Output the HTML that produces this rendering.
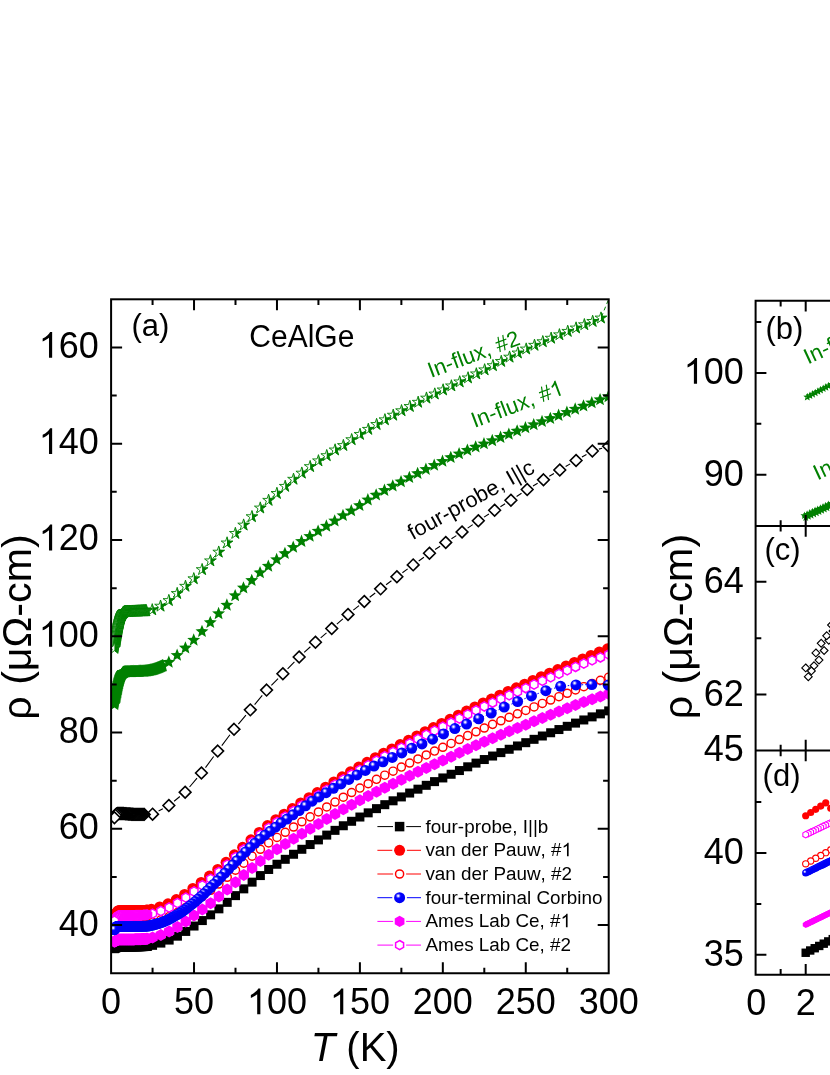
<!DOCTYPE html>
<html><head><meta charset="utf-8"><title>CeAlGe resistivity</title>
<style>html,body{margin:0;padding:0;background:#fff}body{width:830px;height:1075px;overflow:hidden;font-family:"Liberation Sans",sans-serif}svg{display:block;will-change:transform}</style>
</head><body>
<svg width="830" height="1075" viewBox="0 0 830 1075">
<defs>
<radialGradient id="bg" cx="0.375" cy="0.335" r="0.5" fx="0.375" fy="0.335">
<stop offset="0" stop-color="#ffffff"/><stop offset="0.12" stop-color="#e4e4ff"/><stop offset="0.28" stop-color="#6a6aff"/><stop offset="0.46" stop-color="#0808ff"/><stop offset="0.6" stop-color="#0000ff"/><stop offset="1" stop-color="#0000f4"/>
</radialGradient>
<rect id="sq" x="-4.5" y="-4.5" width="9" height="9" fill="#000"/><rect id="sql" x="-4.75" y="-4.75" width="9.5" height="9.5" fill="#000"/>
<circle id="cf" r="5.5" fill="#ff0000"/>
<circle id="co" r="4.05" fill="#fff" stroke="#ff0000" stroke-width="1.45"/>
<circle id="bl" r="5.5" fill="url(#bg)"/>
<path id="hf" d="M0,-6L5.2,-3L5.2,3L0,6L-5.2,3L-5.2,-3Z" fill="#ff00ff"/><path id="hfl" d="M0,-5.6L4.85,-2.8L4.85,2.8L0,5.6L-4.85,2.8L-4.85,-2.8Z" fill="#ff00ff"/>
<path id="ho" d="M0,-4.6L3.98,-2.3L3.98,2.3L0,4.6L-3.98,2.3L-3.98,-2.3Z" fill="#fff" stroke="#ff00ff" stroke-width="1.5"/>
<path id="sf" d="M0,-6.8L1.76,-2.42L6.47,-2.1L2.85,0.92L4,5.5L0,2.99L-4,5.5L-2.85,0.92L-6.47,-2.1L-1.76,-2.42Z" fill="#008000"/>
<g id="sh"><path d="M0,-6.15L1.38,-1.9L5.85,-1.9L2.23,0.73L3.61,4.98L0,2.35L-3.61,4.98L-2.23,0.73L-5.85,-1.9L-1.38,-1.9Z" fill="#fff" stroke="#008000" stroke-width="0.9" stroke-linejoin="miter"/><path d="M0,-6.6L1.48,-2.04L6.28,-2.04L2.4,0.78L3.88,5.34L0,2.52Z" fill="#008000"/></g>
<path id="di" d="M0,-5.85L5.85,0L0,5.85L-5.85,0Z" fill="#fff" stroke="#000" stroke-width="1.6"/>
<rect id="sqs" x="-4.2" y="-4.2" width="8.4" height="8.4" fill="#000"/>
<circle id="cfs" r="3.6" fill="#ff0000"/>
<circle id="cos" r="3.1" fill="#fff" stroke="#ff0000" stroke-width="1.1"/>
<circle id="bls" r="3.6" fill="url(#bg)"/>
<path id="hfs" d="M0,-3.4L2.94,-1.7L2.94,1.7L0,3.4L-2.94,1.7L-2.94,-1.7Z" fill="#ff00ff"/>
<path id="hos" d="M0,-3.3L2.86,-1.65L2.86,1.65L0,3.3L-2.86,1.65L-2.86,-1.65Z" fill="#fff" stroke="#ff00ff" stroke-width="1.1"/>
<path id="sfs" d="M0,-4.2L1.09,-1.5L3.99,-1.3L1.76,0.57L2.47,3.4L0,1.85L-2.47,3.4L-1.76,0.57L-3.99,-1.3L-1.09,-1.5Z" fill="#008000"/>
<g id="shs"><path d="M0,-4.2L1.09,-1.5L3.99,-1.3L1.76,0.57L2.47,3.4L0,1.85L-2.47,3.4L-1.76,0.57L-3.99,-1.3L-1.09,-1.5Z" fill="#008000"/><circle cx="-1.1" cy="0.1" r="0.5" fill="#fff" fill-opacity="0.6"/></g>
<path id="dis" d="M0,-3.9L3.9,0L0,3.9L-3.9,0Z" fill="#fff" stroke="#000" stroke-width="1.15"/>
<clipPath id="ca"><rect x="111.1" y="299.3" width="497.6" height="673.95"/></clipPath>
<clipPath id="cb"><rect x="755.6" y="300.8" width="100" height="225.1"/></clipPath>
<clipPath id="cc"><rect x="755.6" y="525.9" width="100" height="224.55"/></clipPath>
<clipPath id="cd"><rect x="755.6" y="750.45" width="100" height="224.25"/></clipPath>
</defs>
<rect width="830" height="1075" fill="#fff"/>
<g clip-path="url(#ca)">
<polyline points="114.42,648.31 114.58,647.21 114.75,646.12 114.91,645.05 115.08,643.99 115.25,642.95 115.41,641.92 115.58,640.91 115.74,639.91 115.91,638.93 116.08,637.97 116.24,637.02 116.41,636.09 116.57,635.18 116.74,634.28 116.91,633.4 117.07,632.53 117.24,631.68 117.4,630.85 117.57,630.03 117.73,629.23 117.9,628.45 118.07,627.68 118.23,626.93 118.4,626.2 118.56,625.49 118.73,624.79 118.9,624.11 119.06,623.45 119.23,622.8 119.39,622.17 119.56,621.56 119.73,620.97 119.89,620.4 120.06,619.84 120.22,619.3 120.39,618.78 120.55,618.28 120.72,617.8 120.89,617.33 121.05,616.89 121.22,616.46 121.38,616.05 121.55,615.66 121.72,615.29 121.88,614.93 122.05,614.6 122.21,614.29 122.38,613.99 122.54,613.71 122.71,613.46 122.88,613.22 123.04,613 123.21,612.8 123.37,612.62 123.54,612.46 123.71,612.32 123.87,612.21 124.04,612.1 124.2,612 124.37,611.9 124.78,611.69 125.2,611.54 125.61,611.48 126.03,611.44 126.44,611.41 126.86,611.39 127.27,611.36 127.69,611.35 128.1,611.33 128.52,611.32 128.93,611.3 129.35,611.29 129.76,611.28 130.17,611.27 130.59,611.26 131,611.24 131.42,611.23 131.83,611.21 132.25,611.2 132.66,611.19 133.08,611.17 133.49,611.16 133.91,611.15 134.32,611.14 134.74,611.13 135.15,611.12 135.57,611.11 135.98,611.1 136.39,611.09 136.81,611.08 137.22,611.07 137.64,611.06 138.05,611.05 138.47,611.04 138.88,611.03 139.3,611.02 139.71,611.01 140.13,611 140.54,610.99 140.96,610.97 141.37,610.96 141.79,610.95 142.2,610.93 142.61,610.92 143.03,610.9 143.44,610.88 143.86,610.87 144.27,610.85 144.69,610.83 145.1,610.81 145.52,610.78 145.93,610.76 146.35,610.73 152.23,609.8 160.54,606.15 168.85,600.53 177.16,593.48 185.47,586.26 193.78,578.75 202.09,569.61 210.4,560.86 218.71,552.12 227.02,542.96 235.33,533.42 243.64,525.06 251.95,516.68 260.26,508.01 268.57,500.32 276.88,493.43 285.19,486.33 293.5,479.25 301.81,473.11 310.12,466.59 318.43,460.83 326.74,455.63 335.05,449.96 343.36,445.51 351.67,439.67 359.98,434.38 368.29,429.33 376.6,424.47 384.91,419.77 393.22,415.18 401.53,410.72 409.84,406.45 418.15,402.26 426.46,398.1 434.77,394 443.08,389.93 451.39,385.89 459.7,381.88 468.01,377.89 476.32,373.88 484.63,369.83 492.94,365.66 501.25,361.39 509.56,357.13 517.87,352.97 526.18,349.02 534.49,345.29 542.8,341.7 551.11,338.21 559.42,334.77 567.73,331.35 576.04,327.99 584.35,324.7 592.66,321.4 600.97,318.01 608.2,300.3" fill="none" stroke="#008000" stroke-width="1" stroke-dasharray="4,3"/>
<use href="#sh" x="600.97" y="318.01"/><use href="#sh" x="592.66" y="321.4"/><use href="#sh" x="584.35" y="324.7"/><use href="#sh" x="576.04" y="327.99"/><use href="#sh" x="567.73" y="331.35"/><use href="#sh" x="559.42" y="334.77"/><use href="#sh" x="551.11" y="338.21"/><use href="#sh" x="542.8" y="341.7"/><use href="#sh" x="534.49" y="345.29"/><use href="#sh" x="526.18" y="349.02"/><use href="#sh" x="517.87" y="352.97"/><use href="#sh" x="509.56" y="357.13"/><use href="#sh" x="501.25" y="361.39"/><use href="#sh" x="492.94" y="365.66"/><use href="#sh" x="484.63" y="369.83"/><use href="#sh" x="476.32" y="373.88"/><use href="#sh" x="468.01" y="377.89"/><use href="#sh" x="459.7" y="381.88"/><use href="#sh" x="451.39" y="385.89"/><use href="#sh" x="443.08" y="389.93"/><use href="#sh" x="434.77" y="394"/><use href="#sh" x="426.46" y="398.1"/><use href="#sh" x="418.15" y="402.26"/><use href="#sh" x="409.84" y="406.45"/><use href="#sh" x="401.53" y="410.72"/><use href="#sh" x="393.22" y="415.18"/><use href="#sh" x="384.91" y="419.77"/><use href="#sh" x="376.6" y="424.47"/><use href="#sh" x="368.29" y="429.33"/><use href="#sh" x="359.98" y="434.38"/><use href="#sh" x="351.67" y="439.67"/><use href="#sh" x="343.36" y="445.51"/><use href="#sh" x="335.05" y="449.96"/><use href="#sh" x="326.74" y="455.63"/><use href="#sh" x="318.43" y="460.83"/><use href="#sh" x="310.12" y="466.59"/><use href="#sh" x="301.81" y="473.11"/><use href="#sh" x="293.5" y="479.25"/><use href="#sh" x="285.19" y="486.33"/><use href="#sh" x="276.88" y="493.43"/><use href="#sh" x="268.57" y="500.32"/><use href="#sh" x="260.26" y="508.01"/><use href="#sh" x="251.95" y="516.68"/><use href="#sh" x="243.64" y="525.06"/><use href="#sh" x="235.33" y="533.42"/><use href="#sh" x="227.02" y="542.96"/><use href="#sh" x="218.71" y="552.12"/><use href="#sh" x="210.4" y="560.86"/><use href="#sh" x="202.09" y="569.61"/><use href="#sh" x="193.78" y="578.75"/><use href="#sh" x="185.47" y="586.26"/><use href="#sh" x="177.16" y="593.48"/><use href="#sh" x="168.85" y="600.53"/><use href="#sh" x="160.54" y="606.15"/><use href="#sh" x="152.23" y="609.8"/><use href="#sh" x="146.35" y="610.73"/><use href="#sh" x="145.93" y="610.76"/><use href="#sh" x="145.52" y="610.78"/><use href="#sh" x="145.1" y="610.81"/><use href="#sh" x="144.69" y="610.83"/><use href="#sh" x="144.27" y="610.85"/><use href="#sh" x="143.86" y="610.87"/><use href="#sh" x="143.44" y="610.88"/><use href="#sh" x="143.03" y="610.9"/><use href="#sh" x="142.61" y="610.92"/><use href="#sh" x="142.2" y="610.93"/><use href="#sh" x="141.79" y="610.95"/><use href="#sh" x="141.37" y="610.96"/><use href="#sh" x="140.96" y="610.97"/><use href="#sh" x="140.54" y="610.99"/><use href="#sh" x="140.13" y="611"/><use href="#sh" x="139.71" y="611.01"/><use href="#sh" x="139.3" y="611.02"/><use href="#sh" x="138.88" y="611.03"/><use href="#sh" x="138.47" y="611.04"/><use href="#sh" x="138.05" y="611.05"/><use href="#sh" x="137.64" y="611.06"/><use href="#sh" x="137.22" y="611.07"/><use href="#sh" x="136.81" y="611.08"/><use href="#sh" x="136.39" y="611.09"/><use href="#sh" x="135.98" y="611.1"/><use href="#sh" x="135.57" y="611.11"/><use href="#sh" x="135.15" y="611.12"/><use href="#sh" x="134.74" y="611.13"/><use href="#sh" x="134.32" y="611.14"/><use href="#sh" x="133.91" y="611.15"/><use href="#sh" x="133.49" y="611.16"/><use href="#sh" x="133.08" y="611.17"/><use href="#sh" x="132.66" y="611.19"/><use href="#sh" x="132.25" y="611.2"/><use href="#sh" x="131.83" y="611.21"/><use href="#sh" x="131.42" y="611.23"/><use href="#sh" x="131" y="611.24"/><use href="#sh" x="130.59" y="611.26"/><use href="#sh" x="130.17" y="611.27"/><use href="#sh" x="129.76" y="611.28"/><use href="#sh" x="129.35" y="611.29"/><use href="#sh" x="128.93" y="611.3"/><use href="#sh" x="128.52" y="611.32"/><use href="#sh" x="128.1" y="611.33"/><use href="#sh" x="127.69" y="611.35"/><use href="#sh" x="127.27" y="611.36"/><use href="#sh" x="126.86" y="611.39"/><use href="#sh" x="126.44" y="611.41"/><use href="#sh" x="126.03" y="611.44"/><use href="#sh" x="125.61" y="611.48"/><use href="#sh" x="125.2" y="611.54"/><use href="#sh" x="124.78" y="611.69"/><use href="#sh" x="124.37" y="611.9"/><use href="#sh" x="124.2" y="612"/><use href="#sh" x="124.04" y="612.1"/><use href="#sh" x="123.87" y="612.21"/><use href="#sh" x="123.71" y="612.32"/><use href="#sh" x="123.54" y="612.46"/><use href="#sh" x="123.37" y="612.62"/><use href="#sh" x="123.21" y="612.8"/><use href="#sh" x="123.04" y="613"/><use href="#sh" x="122.88" y="613.22"/><use href="#sh" x="122.71" y="613.46"/><use href="#sh" x="122.54" y="613.71"/><use href="#sh" x="122.38" y="613.99"/><use href="#sh" x="122.21" y="614.29"/><use href="#sh" x="122.05" y="614.6"/><use href="#sh" x="121.88" y="614.93"/><use href="#sh" x="121.72" y="615.29"/><use href="#sh" x="121.55" y="615.66"/><use href="#sh" x="121.38" y="616.05"/><use href="#sh" x="121.22" y="616.46"/><use href="#sh" x="121.05" y="616.89"/><use href="#sh" x="120.89" y="617.33"/><use href="#sh" x="120.72" y="617.8"/><use href="#sh" x="120.55" y="618.28"/><use href="#sh" x="120.39" y="618.78"/><use href="#sh" x="120.22" y="619.3"/><use href="#sh" x="120.06" y="619.84"/><use href="#sh" x="119.89" y="620.4"/><use href="#sh" x="119.73" y="620.97"/><use href="#sh" x="119.56" y="621.56"/><use href="#sh" x="119.39" y="622.17"/><use href="#sh" x="119.23" y="622.8"/><use href="#sh" x="119.06" y="623.45"/><use href="#sh" x="118.9" y="624.11"/><use href="#sh" x="118.73" y="624.79"/><use href="#sh" x="118.56" y="625.49"/><use href="#sh" x="118.4" y="626.2"/><use href="#sh" x="118.23" y="626.93"/><use href="#sh" x="118.07" y="627.68"/><use href="#sh" x="117.9" y="628.45"/><use href="#sh" x="117.73" y="629.23"/><use href="#sh" x="117.57" y="630.03"/><use href="#sh" x="117.4" y="630.85"/><use href="#sh" x="117.24" y="631.68"/><use href="#sh" x="117.07" y="632.53"/><use href="#sh" x="116.91" y="633.4"/><use href="#sh" x="116.74" y="634.28"/><use href="#sh" x="116.57" y="635.18"/><use href="#sh" x="116.41" y="636.09"/><use href="#sh" x="116.24" y="637.02"/><use href="#sh" x="116.08" y="637.97"/><use href="#sh" x="115.91" y="638.93"/><use href="#sh" x="115.74" y="639.91"/><use href="#sh" x="115.58" y="640.91"/><use href="#sh" x="115.41" y="641.92"/><use href="#sh" x="115.25" y="642.95"/><use href="#sh" x="115.08" y="643.99"/><use href="#sh" x="114.91" y="645.05"/><use href="#sh" x="114.75" y="646.12"/><use href="#sh" x="114.58" y="647.21"/><use href="#sh" x="114.42" y="648.31"/>
<use href="#sf" x="608.37" y="396.66"/><use href="#sf" x="600.07" y="399.71"/><use href="#sf" x="591.78" y="402.84"/><use href="#sf" x="583.49" y="406"/><use href="#sf" x="575.19" y="409.17"/><use href="#sf" x="566.9" y="412.31"/><use href="#sf" x="558.61" y="415.42"/><use href="#sf" x="550.31" y="418.51"/><use href="#sf" x="542.02" y="421.6"/><use href="#sf" x="533.73" y="424.7"/><use href="#sf" x="525.43" y="427.83"/><use href="#sf" x="517.14" y="431"/><use href="#sf" x="508.85" y="434.2"/><use href="#sf" x="500.55" y="437.42"/><use href="#sf" x="492.26" y="440.64"/><use href="#sf" x="483.97" y="443.85"/><use href="#sf" x="475.67" y="446.98"/><use href="#sf" x="467.38" y="450.25"/><use href="#sf" x="459.09" y="453.8"/><use href="#sf" x="450.79" y="457.51"/><use href="#sf" x="442.5" y="461.37"/><use href="#sf" x="434.21" y="465.33"/><use href="#sf" x="425.91" y="469.38"/><use href="#sf" x="417.62" y="473.48"/><use href="#sf" x="409.33" y="477.6"/><use href="#sf" x="401.03" y="481.75"/><use href="#sf" x="392.74" y="485.99"/><use href="#sf" x="384.45" y="490.39"/><use href="#sf" x="376.15" y="495.01"/><use href="#sf" x="367.86" y="499.91"/><use href="#sf" x="359.57" y="505.49"/><use href="#sf" x="351.27" y="510.83"/><use href="#sf" x="342.98" y="515.55"/><use href="#sf" x="334.69" y="520.95"/><use href="#sf" x="326.39" y="526.14"/><use href="#sf" x="318.1" y="531.19"/><use href="#sf" x="309.81" y="536.35"/><use href="#sf" x="301.51" y="541.42"/><use href="#sf" x="293.22" y="547.34"/><use href="#sf" x="284.93" y="553.48"/><use href="#sf" x="276.63" y="559.61"/><use href="#sf" x="268.34" y="566.21"/><use href="#sf" x="260.05" y="572.73"/><use href="#sf" x="251.75" y="580.46"/><use href="#sf" x="243.46" y="587.96"/><use href="#sf" x="235.17" y="595.7"/><use href="#sf" x="226.87" y="605.16"/><use href="#sf" x="218.58" y="613.65"/><use href="#sf" x="210.29" y="622.49"/><use href="#sf" x="201.99" y="631.48"/><use href="#sf" x="193.7" y="640.13"/><use href="#sf" x="185.41" y="647.97"/><use href="#sf" x="177.11" y="655.34"/><use href="#sf" x="168.82" y="662.27"/><use href="#sf" x="162.93" y="665.67"/><use href="#sf" x="162.52" y="665.88"/><use href="#sf" x="162.1" y="666.08"/><use href="#sf" x="161.69" y="666.28"/><use href="#sf" x="161.27" y="666.47"/><use href="#sf" x="160.86" y="666.66"/><use href="#sf" x="160.45" y="666.85"/><use href="#sf" x="160.03" y="667.03"/><use href="#sf" x="159.62" y="667.21"/><use href="#sf" x="159.2" y="667.39"/><use href="#sf" x="158.79" y="667.56"/><use href="#sf" x="158.37" y="667.72"/><use href="#sf" x="157.96" y="667.89"/><use href="#sf" x="157.54" y="668.05"/><use href="#sf" x="157.13" y="668.21"/><use href="#sf" x="156.71" y="668.36"/><use href="#sf" x="156.3" y="668.52"/><use href="#sf" x="155.88" y="668.68"/><use href="#sf" x="155.47" y="668.83"/><use href="#sf" x="155.05" y="668.98"/><use href="#sf" x="154.64" y="669.12"/><use href="#sf" x="154.23" y="669.26"/><use href="#sf" x="153.81" y="669.39"/><use href="#sf" x="153.4" y="669.51"/><use href="#sf" x="152.98" y="669.63"/><use href="#sf" x="152.57" y="669.73"/><use href="#sf" x="152.15" y="669.83"/><use href="#sf" x="151.74" y="669.93"/><use href="#sf" x="151.32" y="670.02"/><use href="#sf" x="150.91" y="670.12"/><use href="#sf" x="150.49" y="670.21"/><use href="#sf" x="150.08" y="670.3"/><use href="#sf" x="149.66" y="670.39"/><use href="#sf" x="149.25" y="670.47"/><use href="#sf" x="148.83" y="670.55"/><use href="#sf" x="148.42" y="670.63"/><use href="#sf" x="148.01" y="670.71"/><use href="#sf" x="147.59" y="670.78"/><use href="#sf" x="147.18" y="670.85"/><use href="#sf" x="146.76" y="670.91"/><use href="#sf" x="146.35" y="670.97"/><use href="#sf" x="145.93" y="671.02"/><use href="#sf" x="145.52" y="671.07"/><use href="#sf" x="145.1" y="671.11"/><use href="#sf" x="144.69" y="671.15"/><use href="#sf" x="144.27" y="671.18"/><use href="#sf" x="143.86" y="671.2"/><use href="#sf" x="143.44" y="671.23"/><use href="#sf" x="143.03" y="671.25"/><use href="#sf" x="142.61" y="671.27"/><use href="#sf" x="142.2" y="671.29"/><use href="#sf" x="141.79" y="671.31"/><use href="#sf" x="141.37" y="671.33"/><use href="#sf" x="140.96" y="671.34"/><use href="#sf" x="140.54" y="671.36"/><use href="#sf" x="140.13" y="671.38"/><use href="#sf" x="139.71" y="671.39"/><use href="#sf" x="139.3" y="671.4"/><use href="#sf" x="138.88" y="671.42"/><use href="#sf" x="138.47" y="671.43"/><use href="#sf" x="138.05" y="671.44"/><use href="#sf" x="137.64" y="671.46"/><use href="#sf" x="137.22" y="671.47"/><use href="#sf" x="136.81" y="671.48"/><use href="#sf" x="136.39" y="671.49"/><use href="#sf" x="135.98" y="671.5"/><use href="#sf" x="135.57" y="671.51"/><use href="#sf" x="135.15" y="671.52"/><use href="#sf" x="134.74" y="671.54"/><use href="#sf" x="134.32" y="671.55"/><use href="#sf" x="133.91" y="671.56"/><use href="#sf" x="133.49" y="671.57"/><use href="#sf" x="133.08" y="671.58"/><use href="#sf" x="132.66" y="671.6"/><use href="#sf" x="132.25" y="671.61"/><use href="#sf" x="131.83" y="671.63"/><use href="#sf" x="131.42" y="671.64"/><use href="#sf" x="131" y="671.66"/><use href="#sf" x="130.59" y="671.67"/><use href="#sf" x="130.17" y="671.69"/><use href="#sf" x="129.76" y="671.7"/><use href="#sf" x="129.35" y="671.71"/><use href="#sf" x="128.93" y="671.72"/><use href="#sf" x="128.52" y="671.73"/><use href="#sf" x="128.1" y="671.75"/><use href="#sf" x="127.69" y="671.76"/><use href="#sf" x="127.27" y="671.78"/><use href="#sf" x="126.86" y="671.8"/><use href="#sf" x="126.44" y="671.82"/><use href="#sf" x="126.03" y="671.85"/><use href="#sf" x="125.61" y="671.88"/><use href="#sf" x="125.2" y="671.92"/><use href="#sf" x="124.78" y="672"/><use href="#sf" x="124.37" y="672.12"/><use href="#sf" x="124.2" y="672.18"/><use href="#sf" x="124.04" y="672.24"/><use href="#sf" x="123.87" y="672.31"/><use href="#sf" x="123.71" y="672.38"/><use href="#sf" x="123.54" y="672.46"/><use href="#sf" x="123.37" y="672.57"/><use href="#sf" x="123.21" y="672.69"/><use href="#sf" x="123.04" y="672.83"/><use href="#sf" x="122.88" y="673"/><use href="#sf" x="122.71" y="673.18"/><use href="#sf" x="122.54" y="673.38"/><use href="#sf" x="122.38" y="673.6"/><use href="#sf" x="122.21" y="673.84"/><use href="#sf" x="122.05" y="674.1"/><use href="#sf" x="121.88" y="674.37"/><use href="#sf" x="121.72" y="674.67"/><use href="#sf" x="121.55" y="674.98"/><use href="#sf" x="121.38" y="675.32"/><use href="#sf" x="121.22" y="675.67"/><use href="#sf" x="121.05" y="676.04"/><use href="#sf" x="120.89" y="676.42"/><use href="#sf" x="120.72" y="676.83"/><use href="#sf" x="120.55" y="677.25"/><use href="#sf" x="120.39" y="677.7"/><use href="#sf" x="120.22" y="678.15"/><use href="#sf" x="120.06" y="678.63"/><use href="#sf" x="119.89" y="679.13"/><use href="#sf" x="119.73" y="679.64"/><use href="#sf" x="119.56" y="680.17"/><use href="#sf" x="119.39" y="680.71"/><use href="#sf" x="119.23" y="681.28"/><use href="#sf" x="119.06" y="681.86"/><use href="#sf" x="118.9" y="682.46"/><use href="#sf" x="118.73" y="683.07"/><use href="#sf" x="118.56" y="683.7"/><use href="#sf" x="118.4" y="684.35"/><use href="#sf" x="118.23" y="685.02"/><use href="#sf" x="118.07" y="685.7"/><use href="#sf" x="117.9" y="686.39"/><use href="#sf" x="117.73" y="687.11"/><use href="#sf" x="117.57" y="687.84"/><use href="#sf" x="117.4" y="688.58"/><use href="#sf" x="117.24" y="689.35"/><use href="#sf" x="117.07" y="690.12"/><use href="#sf" x="116.91" y="690.92"/><use href="#sf" x="116.74" y="691.73"/><use href="#sf" x="116.57" y="692.55"/><use href="#sf" x="116.41" y="693.39"/><use href="#sf" x="116.24" y="694.25"/><use href="#sf" x="116.08" y="695.12"/><use href="#sf" x="115.91" y="696"/><use href="#sf" x="115.74" y="696.9"/><use href="#sf" x="115.58" y="697.82"/><use href="#sf" x="115.41" y="698.75"/><use href="#sf" x="115.25" y="699.69"/><use href="#sf" x="115.08" y="700.65"/><use href="#sf" x="114.91" y="701.63"/><use href="#sf" x="114.75" y="702.61"/><use href="#sf" x="114.58" y="703.62"/><use href="#sf" x="114.42" y="704.63"/>
<path d="M158.58,810.97L162.84,808.71M174.11,801.22L179.88,796.48M189.55,786.99L197.03,778.2M205.48,767.56L213.67,756.54M221.79,745.64L229.93,734.76M238.37,724.1L245.93,715.07M254.62,704.61L262.26,695.35M271.38,685.28L278.07,678.56M287.61,668.87L294.42,661.88M304.19,652.43L310.42,646.77M320.66,637.83L326.52,632.91M336.87,624.09L342.89,618.87M353.34,610.17L359,605.65M369.7,597.26L375.21,593.02M386.05,584.8L391.44,580.77M402.39,572.71L407.67,568.88M418.71,560.93L423.93,557.21M435.13,549.49L440.09,546.19M451.47,538.74L456.33,535.6M467.65,528.08L472.72,524.61M484.04,517.09L488.9,513.96M500.41,506.71L505.11,503.81M516.59,496.51L521.51,493.27M533.04,486.06L537.64,483.32M549.3,476.32L553.95,473.51M565.64,466.56L570.19,463.89M581.95,457.05L586.46,454.44M598.87,449.13L602.11,448.17" stroke="#000" stroke-width="1.1" fill="none"/>
<use href="#di" x="608.63" y="446.26"/><use href="#di" x="592.35" y="451.04"/><use href="#di" x="576.06" y="460.45"/><use href="#di" x="559.77" y="470"/><use href="#di" x="543.48" y="479.84"/><use href="#di" x="527.19" y="489.53"/><use href="#di" x="510.91" y="500.25"/><use href="#di" x="494.62" y="510.27"/><use href="#di" x="478.33" y="520.78"/><use href="#di" x="462.04" y="531.92"/><use href="#di" x="445.75" y="542.42"/><use href="#di" x="429.46" y="553.26"/><use href="#di" x="413.18" y="564.89"/><use href="#di" x="396.89" y="576.7"/><use href="#di" x="380.6" y="588.87"/><use href="#di" x="364.31" y="601.41"/><use href="#di" x="348.02" y="614.42"/><use href="#di" x="331.74" y="628.54"/><use href="#di" x="315.45" y="642.2"/><use href="#di" x="299.16" y="657.01"/><use href="#di" x="282.87" y="673.75"/><use href="#di" x="266.58" y="690.1"/><use href="#di" x="250.3" y="709.86"/><use href="#di" x="234.01" y="729.31"/><use href="#di" x="217.72" y="751.08"/><use href="#di" x="201.43" y="773.02"/><use href="#di" x="185.14" y="792.17"/><use href="#di" x="168.85" y="805.53"/><use href="#di" x="152.57" y="814.15"/><use href="#di" x="144.27" y="814.39"/><use href="#di" x="143.28" y="814.39"/><use href="#di" x="142.28" y="814.39"/><use href="#di" x="141.29" y="814.39"/><use href="#di" x="140.29" y="814.39"/><use href="#di" x="139.3" y="814.39"/><use href="#di" x="138.3" y="814.39"/><use href="#di" x="137.31" y="814.39"/><use href="#di" x="136.31" y="814.39"/><use href="#di" x="135.32" y="814.38"/><use href="#di" x="134.32" y="814.36"/><use href="#di" x="133.33" y="814.31"/><use href="#di" x="132.33" y="814.25"/><use href="#di" x="131.34" y="814.18"/><use href="#di" x="130.34" y="814.1"/><use href="#di" x="129.35" y="814.03"/><use href="#di" x="128.35" y="813.95"/><use href="#di" x="127.35" y="813.89"/><use href="#di" x="126.36" y="813.8"/><use href="#di" x="125.36" y="813.71"/><use href="#di" x="124.37" y="813.61"/><use href="#di" x="123.37" y="813.53"/><use href="#di" x="122.38" y="813.46"/><use href="#di" x="121.38" y="813.43"/><use href="#di" x="120.39" y="813.43"/><use href="#di" x="119.39" y="813.43"/><use href="#di" x="118.4" y="813.43"/><use href="#di" x="117.4" y="813.46"/><use href="#di" x="116.41" y="813.92"/><use href="#di" x="115.41" y="815.24"/><use href="#di" x="114.42" y="817.76"/>
<use href="#sq" x="608.7" y="710.89"/><use href="#sq" x="600.41" y="713.86"/><use href="#sq" x="592.11" y="716.88"/><use href="#sq" x="583.82" y="719.96"/><use href="#sq" x="575.53" y="723.1"/><use href="#sq" x="567.23" y="726.31"/><use href="#sq" x="558.94" y="729.55"/><use href="#sq" x="550.65" y="732.76"/><use href="#sq" x="542.35" y="736"/><use href="#sq" x="534.06" y="739.33"/><use href="#sq" x="525.77" y="742.68"/><use href="#sq" x="517.47" y="745.97"/><use href="#sq" x="509.18" y="749.27"/><use href="#sq" x="500.89" y="752.62"/><use href="#sq" x="492.59" y="756.04"/><use href="#sq" x="484.3" y="759.54"/><use href="#sq" x="476.01" y="763.12"/><use href="#sq" x="467.71" y="766.81"/><use href="#sq" x="459.42" y="770.55"/><use href="#sq" x="451.13" y="774.26"/><use href="#sq" x="442.83" y="777.95"/><use href="#sq" x="434.54" y="781.62"/><use href="#sq" x="426.25" y="785.32"/><use href="#sq" x="417.95" y="789.17"/><use href="#sq" x="409.66" y="793.05"/><use href="#sq" x="401.37" y="796.92"/><use href="#sq" x="393.07" y="800.81"/><use href="#sq" x="384.78" y="804.68"/><use href="#sq" x="376.49" y="808.64"/><use href="#sq" x="368.19" y="812.85"/><use href="#sq" x="359.9" y="817.03"/><use href="#sq" x="351.61" y="821.29"/><use href="#sq" x="343.31" y="825.75"/><use href="#sq" x="335.02" y="830.35"/><use href="#sq" x="326.73" y="835.1"/><use href="#sq" x="318.43" y="839.89"/><use href="#sq" x="310.14" y="844.56"/><use href="#sq" x="301.85" y="849.29"/><use href="#sq" x="293.55" y="854.26"/><use href="#sq" x="285.26" y="859.32"/><use href="#sq" x="276.97" y="864.25"/><use href="#sq" x="268.67" y="869.47"/><use href="#sq" x="260.38" y="875.58"/><use href="#sq" x="252.09" y="882.15"/><use href="#sq" x="243.79" y="888.86"/><use href="#sq" x="235.5" y="895.63"/><use href="#sq" x="227.21" y="902.35"/><use href="#sq" x="218.91" y="908.84"/><use href="#sq" x="210.62" y="914.86"/><use href="#sq" x="202.33" y="920.57"/><use href="#sq" x="194.03" y="926.04"/><use href="#sq" x="185.74" y="931.42"/><use href="#sq" x="177.45" y="936.18"/><use href="#sq" x="169.15" y="940.08"/><use href="#sq" x="160.86" y="943.09"/><use href="#sq" x="152.57" y="945.34"/><use href="#sq" x="147.59" y="946.28"/><use href="#sq" x="146.93" y="946.36"/><use href="#sq" x="146.26" y="946.42"/><use href="#sq" x="145.6" y="946.48"/><use href="#sq" x="144.94" y="946.52"/><use href="#sq" x="144.27" y="946.54"/><use href="#sq" x="143.61" y="946.56"/><use href="#sq" x="142.95" y="946.58"/><use href="#sq" x="142.28" y="946.59"/><use href="#sq" x="141.62" y="946.61"/><use href="#sq" x="140.96" y="946.62"/><use href="#sq" x="140.29" y="946.64"/><use href="#sq" x="139.63" y="946.65"/><use href="#sq" x="138.97" y="946.66"/><use href="#sq" x="138.3" y="946.67"/><use href="#sq" x="137.64" y="946.69"/><use href="#sq" x="136.98" y="946.7"/><use href="#sq" x="136.31" y="946.71"/><use href="#sq" x="135.65" y="946.72"/><use href="#sq" x="134.98" y="946.73"/><use href="#sq" x="134.32" y="946.73"/><use href="#sq" x="133.66" y="946.74"/><use href="#sq" x="132.99" y="946.75"/><use href="#sq" x="132.33" y="946.75"/><use href="#sq" x="131.67" y="946.76"/><use href="#sq" x="131" y="946.76"/><use href="#sq" x="130.34" y="946.77"/><use href="#sq" x="129.68" y="946.77"/><use href="#sq" x="129.01" y="946.77"/><use href="#sq" x="128.35" y="946.77"/><use href="#sq" x="127.69" y="946.77"/><use href="#sq" x="127.02" y="946.77"/><use href="#sq" x="126.36" y="946.77"/><use href="#sq" x="125.7" y="946.77"/><use href="#sq" x="125.03" y="946.77"/><use href="#sq" x="124.37" y="946.77"/><use href="#sq" x="123.71" y="946.77"/><use href="#sq" x="123.04" y="946.77"/><use href="#sq" x="122.38" y="946.77"/><use href="#sq" x="121.72" y="946.77"/><use href="#sq" x="121.05" y="946.77"/><use href="#sq" x="120.39" y="946.77"/><use href="#sq" x="119.73" y="946.77"/><use href="#sq" x="119.06" y="946.77"/><use href="#sq" x="118.4" y="946.8"/><use href="#sq" x="117.73" y="947.01"/><use href="#sq" x="117.07" y="947.28"/><use href="#sq" x="116.41" y="947.6"/><use href="#sq" x="115.74" y="947.94"/><use href="#sq" x="115.08" y="948.31"/><use href="#sq" x="114.42" y="948.7"/>
<use href="#cf" x="607.54" y="648.77"/><use href="#cf" x="599.25" y="652.08"/><use href="#cf" x="590.95" y="655.45"/><use href="#cf" x="582.66" y="658.88"/><use href="#cf" x="574.37" y="662.38"/><use href="#cf" x="566.07" y="665.96"/><use href="#cf" x="557.78" y="669.56"/><use href="#cf" x="549.49" y="673.13"/><use href="#cf" x="541.19" y="676.75"/><use href="#cf" x="532.9" y="680.47"/><use href="#cf" x="524.61" y="684.18"/><use href="#cf" x="516.31" y="687.83"/><use href="#cf" x="508.02" y="691.51"/><use href="#cf" x="499.73" y="695.25"/><use href="#cf" x="491.43" y="699.07"/><use href="#cf" x="483.14" y="702.97"/><use href="#cf" x="474.85" y="706.96"/><use href="#cf" x="466.55" y="711.09"/><use href="#cf" x="458.26" y="715.25"/><use href="#cf" x="449.97" y="719.36"/><use href="#cf" x="441.67" y="723.47"/><use href="#cf" x="433.38" y="727.55"/><use href="#cf" x="425.09" y="731.69"/><use href="#cf" x="416.79" y="735.98"/><use href="#cf" x="408.5" y="740.3"/><use href="#cf" x="400.21" y="744.6"/><use href="#cf" x="391.91" y="748.92"/><use href="#cf" x="383.62" y="753.23"/><use href="#cf" x="375.33" y="757.67"/><use href="#cf" x="367.03" y="762.37"/><use href="#cf" x="358.74" y="767.02"/><use href="#cf" x="350.45" y="771.78"/><use href="#cf" x="342.15" y="776.77"/><use href="#cf" x="333.86" y="781.91"/><use href="#cf" x="325.57" y="787.21"/><use href="#cf" x="317.27" y="792.52"/><use href="#cf" x="308.98" y="797.71"/><use href="#cf" x="300.69" y="803"/><use href="#cf" x="292.39" y="808.55"/><use href="#cf" x="284.1" y="814.18"/><use href="#cf" x="275.81" y="819.65"/><use href="#cf" x="267.51" y="825.58"/><use href="#cf" x="259.22" y="832.49"/><use href="#cf" x="250.93" y="839.81"/><use href="#cf" x="242.63" y="847.31"/><use href="#cf" x="234.34" y="854.83"/><use href="#cf" x="226.05" y="862.3"/><use href="#cf" x="217.75" y="869.44"/><use href="#cf" x="209.46" y="876.08"/><use href="#cf" x="201.17" y="882.4"/><use href="#cf" x="192.87" y="888.45"/><use href="#cf" x="184.58" y="894.4"/><use href="#cf" x="176.29" y="899.52"/><use href="#cf" x="167.99" y="903.78"/><use href="#cf" x="159.7" y="906.93"/><use href="#cf" x="151.41" y="909.36"/><use href="#cf" x="147.59" y="910.12"/><use href="#cf" x="146.93" y="910.21"/><use href="#cf" x="146.26" y="910.28"/><use href="#cf" x="145.6" y="910.34"/><use href="#cf" x="144.94" y="910.38"/><use href="#cf" x="144.27" y="910.41"/><use href="#cf" x="143.61" y="910.43"/><use href="#cf" x="142.95" y="910.45"/><use href="#cf" x="142.28" y="910.47"/><use href="#cf" x="141.62" y="910.48"/><use href="#cf" x="140.96" y="910.5"/><use href="#cf" x="140.29" y="910.52"/><use href="#cf" x="139.63" y="910.53"/><use href="#cf" x="138.97" y="910.55"/><use href="#cf" x="138.3" y="910.56"/><use href="#cf" x="137.64" y="910.57"/><use href="#cf" x="136.98" y="910.58"/><use href="#cf" x="136.31" y="910.6"/><use href="#cf" x="135.65" y="910.61"/><use href="#cf" x="134.98" y="910.62"/><use href="#cf" x="134.32" y="910.62"/><use href="#cf" x="133.66" y="910.63"/><use href="#cf" x="132.99" y="910.64"/><use href="#cf" x="132.33" y="910.65"/><use href="#cf" x="131.67" y="910.65"/><use href="#cf" x="131" y="910.66"/><use href="#cf" x="130.34" y="910.66"/><use href="#cf" x="129.68" y="910.66"/><use href="#cf" x="129.01" y="910.67"/><use href="#cf" x="128.35" y="910.67"/><use href="#cf" x="127.69" y="910.67"/><use href="#cf" x="127.02" y="910.67"/><use href="#cf" x="126.36" y="910.67"/><use href="#cf" x="125.7" y="910.67"/><use href="#cf" x="125.03" y="910.67"/><use href="#cf" x="124.37" y="910.67"/><use href="#cf" x="123.71" y="910.67"/><use href="#cf" x="123.04" y="910.67"/><use href="#cf" x="122.38" y="910.67"/><use href="#cf" x="121.72" y="910.67"/><use href="#cf" x="121.05" y="910.67"/><use href="#cf" x="120.39" y="910.67"/><use href="#cf" x="119.73" y="910.67"/><use href="#cf" x="119.06" y="910.67"/><use href="#cf" x="118.4" y="910.75"/><use href="#cf" x="117.73" y="911.35"/><use href="#cf" x="117.07" y="912.14"/><use href="#cf" x="116.41" y="913.03"/><use href="#cf" x="115.74" y="914.02"/><use href="#cf" x="115.08" y="915.08"/><use href="#cf" x="114.42" y="916.2"/>
<use href="#co" x="608.7" y="677.19"/><use href="#co" x="600.41" y="680.29"/><use href="#co" x="592.11" y="683.45"/><use href="#co" x="583.82" y="686.67"/><use href="#co" x="575.53" y="689.95"/><use href="#co" x="567.23" y="693.3"/><use href="#co" x="558.94" y="696.69"/><use href="#co" x="550.65" y="700.04"/><use href="#co" x="542.35" y="703.43"/><use href="#co" x="534.06" y="706.91"/><use href="#co" x="525.77" y="710.41"/><use href="#co" x="517.47" y="713.85"/><use href="#co" x="509.18" y="717.29"/><use href="#co" x="500.89" y="720.8"/><use href="#co" x="492.59" y="724.37"/><use href="#co" x="484.3" y="728.02"/><use href="#co" x="476.01" y="731.76"/><use href="#co" x="467.71" y="735.63"/><use href="#co" x="459.42" y="739.53"/><use href="#co" x="451.13" y="743.4"/><use href="#co" x="442.83" y="747.27"/><use href="#co" x="434.54" y="751.09"/><use href="#co" x="426.25" y="754.97"/><use href="#co" x="417.95" y="758.98"/><use href="#co" x="409.66" y="763.04"/><use href="#co" x="401.37" y="767.09"/><use href="#co" x="393.07" y="771.15"/><use href="#co" x="384.78" y="775.19"/><use href="#co" x="376.49" y="779.33"/><use href="#co" x="368.19" y="783.73"/><use href="#co" x="359.9" y="788.1"/><use href="#co" x="351.61" y="792.55"/><use href="#co" x="343.31" y="797.21"/><use href="#co" x="335.02" y="802.02"/><use href="#co" x="326.73" y="806.98"/><use href="#co" x="318.43" y="811.98"/><use href="#co" x="310.14" y="816.86"/><use href="#co" x="301.85" y="821.8"/><use href="#co" x="293.55" y="827"/><use href="#co" x="285.26" y="832.29"/><use href="#co" x="276.97" y="837.44"/><use href="#co" x="268.67" y="842.89"/><use href="#co" x="260.38" y="849.28"/><use href="#co" x="252.09" y="856.14"/><use href="#co" x="243.79" y="863.15"/><use href="#co" x="235.5" y="870.23"/><use href="#co" x="227.21" y="877.25"/><use href="#co" x="218.91" y="884.03"/><use href="#co" x="210.62" y="890.32"/><use href="#co" x="202.33" y="896.29"/><use href="#co" x="194.03" y="902"/><use href="#co" x="185.74" y="907.62"/><use href="#co" x="177.45" y="912.59"/><use href="#co" x="169.15" y="916.68"/><use href="#co" x="160.86" y="919.82"/><use href="#co" x="152.57" y="922.17"/><use href="#co" x="147.59" y="923.15"/><use href="#co" x="146.93" y="923.23"/><use href="#co" x="146.26" y="923.3"/><use href="#co" x="145.6" y="923.36"/><use href="#co" x="144.94" y="923.4"/><use href="#co" x="144.27" y="923.43"/><use href="#co" x="143.61" y="923.44"/><use href="#co" x="142.95" y="923.46"/><use href="#co" x="142.28" y="923.48"/><use href="#co" x="141.62" y="923.49"/><use href="#co" x="140.96" y="923.51"/><use href="#co" x="140.29" y="923.52"/><use href="#co" x="139.63" y="923.54"/><use href="#co" x="138.97" y="923.55"/><use href="#co" x="138.3" y="923.56"/><use href="#co" x="137.64" y="923.58"/><use href="#co" x="136.98" y="923.59"/><use href="#co" x="136.31" y="923.6"/><use href="#co" x="135.65" y="923.61"/><use href="#co" x="134.98" y="923.62"/><use href="#co" x="134.32" y="923.63"/><use href="#co" x="133.66" y="923.63"/><use href="#co" x="132.99" y="923.64"/><use href="#co" x="132.33" y="923.65"/><use href="#co" x="131.67" y="923.65"/><use href="#co" x="131" y="923.66"/><use href="#co" x="130.34" y="923.66"/><use href="#co" x="129.68" y="923.66"/><use href="#co" x="129.01" y="923.66"/><use href="#co" x="128.35" y="923.67"/><use href="#co" x="127.69" y="923.67"/><use href="#co" x="127.02" y="923.67"/><use href="#co" x="126.36" y="923.67"/><use href="#co" x="125.7" y="923.67"/><use href="#co" x="125.03" y="923.67"/><use href="#co" x="124.37" y="923.67"/><use href="#co" x="123.71" y="923.67"/><use href="#co" x="123.04" y="923.67"/><use href="#co" x="122.38" y="923.67"/><use href="#co" x="121.72" y="923.67"/><use href="#co" x="121.05" y="923.67"/><use href="#co" x="120.39" y="923.67"/><use href="#co" x="119.73" y="923.67"/><use href="#co" x="119.06" y="923.67"/><use href="#co" x="118.4" y="923.67"/><use href="#co" x="117.73" y="923.8"/><use href="#co" x="117.07" y="924.08"/><use href="#co" x="116.41" y="924.49"/><use href="#co" x="115.74" y="924.99"/><use href="#co" x="115.08" y="926.09"/><use href="#co" x="114.42" y="927.66"/>
<use href="#hf" x="608.7" y="694.04"/><use href="#hf" x="600.41" y="696.53"/><use href="#hf" x="592.11" y="699.16"/><use href="#hf" x="583.82" y="702.01"/><use href="#hf" x="575.53" y="705.06"/><use href="#hf" x="567.23" y="708.23"/><use href="#hf" x="558.94" y="711.46"/><use href="#hf" x="550.65" y="714.68"/><use href="#hf" x="542.35" y="717.94"/><use href="#hf" x="534.06" y="721.3"/><use href="#hf" x="525.77" y="724.67"/><use href="#hf" x="517.47" y="727.98"/><use href="#hf" x="509.18" y="731.31"/><use href="#hf" x="500.89" y="734.69"/><use href="#hf" x="492.59" y="738.15"/><use href="#hf" x="484.3" y="741.69"/><use href="#hf" x="476.01" y="745.32"/><use href="#hf" x="467.71" y="749.07"/><use href="#hf" x="459.42" y="752.87"/><use href="#hf" x="451.13" y="756.64"/><use href="#hf" x="442.83" y="760.4"/><use href="#hf" x="434.54" y="764.13"/><use href="#hf" x="426.25" y="767.9"/><use href="#hf" x="417.95" y="771.81"/><use href="#hf" x="409.66" y="775.77"/><use href="#hf" x="401.37" y="779.72"/><use href="#hf" x="393.07" y="783.69"/><use href="#hf" x="384.78" y="787.64"/><use href="#hf" x="376.49" y="791.71"/><use href="#hf" x="368.19" y="796.04"/><use href="#hf" x="359.9" y="800.34"/><use href="#hf" x="351.61" y="804.73"/><use href="#hf" x="343.31" y="809.34"/><use href="#hf" x="335.02" y="814.1"/><use href="#hf" x="326.73" y="819.01"/><use href="#hf" x="318.43" y="823.96"/><use href="#hf" x="310.14" y="828.8"/><use href="#hf" x="301.85" y="833.7"/><use href="#hf" x="293.55" y="838.85"/><use href="#hf" x="285.26" y="844.12"/><use href="#hf" x="276.97" y="849.24"/><use href="#hf" x="268.67" y="854.69"/><use href="#hf" x="260.38" y="861.11"/><use href="#hf" x="252.09" y="868.03"/><use href="#hf" x="243.79" y="875.1"/><use href="#hf" x="235.5" y="882.3"/><use href="#hf" x="227.21" y="889.52"/><use href="#hf" x="218.91" y="896.58"/><use href="#hf" x="210.62" y="903.18"/><use href="#hf" x="202.33" y="909.48"/><use href="#hf" x="194.03" y="915.52"/><use href="#hf" x="185.74" y="921.51"/><use href="#hf" x="177.45" y="926.91"/><use href="#hf" x="169.15" y="931.44"/><use href="#hf" x="160.86" y="934.96"/><use href="#hf" x="152.57" y="937.57"/><use href="#hf" x="147.59" y="938.65"/><use href="#hf" x="146.93" y="938.75"/><use href="#hf" x="146.26" y="938.83"/><use href="#hf" x="145.6" y="938.9"/><use href="#hf" x="144.94" y="938.96"/><use href="#hf" x="144.27" y="939"/><use href="#hf" x="143.61" y="939.03"/><use href="#hf" x="142.95" y="939.06"/><use href="#hf" x="142.28" y="939.09"/><use href="#hf" x="141.62" y="939.12"/><use href="#hf" x="140.96" y="939.15"/><use href="#hf" x="140.29" y="939.17"/><use href="#hf" x="139.63" y="939.2"/><use href="#hf" x="138.97" y="939.23"/><use href="#hf" x="138.3" y="939.25"/><use href="#hf" x="137.64" y="939.27"/><use href="#hf" x="136.98" y="939.3"/><use href="#hf" x="136.31" y="939.32"/><use href="#hf" x="135.65" y="939.34"/><use href="#hf" x="134.98" y="939.36"/><use href="#hf" x="134.32" y="939.38"/><use href="#hf" x="133.66" y="939.4"/><use href="#hf" x="132.99" y="939.41"/><use href="#hf" x="132.33" y="939.43"/><use href="#hf" x="131.67" y="939.44"/><use href="#hf" x="131" y="939.46"/><use href="#hf" x="130.34" y="939.47"/><use href="#hf" x="129.68" y="939.48"/><use href="#hf" x="129.01" y="939.49"/><use href="#hf" x="128.35" y="939.5"/><use href="#hf" x="127.69" y="939.5"/><use href="#hf" x="127.02" y="939.51"/><use href="#hf" x="126.36" y="939.52"/><use href="#hf" x="125.7" y="939.52"/><use href="#hf" x="125.03" y="939.53"/><use href="#hf" x="124.37" y="939.53"/><use href="#hf" x="123.71" y="939.54"/><use href="#hf" x="123.04" y="939.54"/><use href="#hf" x="122.38" y="939.54"/><use href="#hf" x="121.72" y="939.55"/><use href="#hf" x="121.05" y="939.55"/><use href="#hf" x="120.39" y="939.55"/><use href="#hf" x="119.73" y="939.55"/><use href="#hf" x="119.06" y="939.55"/><use href="#hf" x="118.4" y="939.59"/><use href="#hf" x="117.73" y="939.82"/><use href="#hf" x="117.07" y="940.13"/><use href="#hf" x="116.41" y="940.48"/><use href="#hf" x="115.74" y="940.86"/><use href="#hf" x="115.08" y="941.28"/><use href="#hf" x="114.42" y="941.72"/>
<use href="#ho" x="608.7" y="654.57"/><use href="#ho" x="600.41" y="657.42"/><use href="#ho" x="592.11" y="660.38"/><use href="#ho" x="583.82" y="663.56"/><use href="#ho" x="575.53" y="666.91"/><use href="#ho" x="567.23" y="670.36"/><use href="#ho" x="558.94" y="673.87"/><use href="#ho" x="550.65" y="677.36"/><use href="#ho" x="542.35" y="680.89"/><use href="#ho" x="534.06" y="684.52"/><use href="#ho" x="525.77" y="688.16"/><use href="#ho" x="517.47" y="691.74"/><use href="#ho" x="509.18" y="695.32"/><use href="#ho" x="500.89" y="698.96"/><use href="#ho" x="492.59" y="702.67"/><use href="#ho" x="484.3" y="706.47"/><use href="#ho" x="476.01" y="710.37"/><use href="#ho" x="467.71" y="714.41"/><use href="#ho" x="459.42" y="718.51"/><use href="#ho" x="451.13" y="722.58"/><use href="#ho" x="442.83" y="726.66"/><use href="#ho" x="434.54" y="730.71"/><use href="#ho" x="426.25" y="734.81"/><use href="#ho" x="417.95" y="739.06"/><use href="#ho" x="409.66" y="743.36"/><use href="#ho" x="401.37" y="747.64"/><use href="#ho" x="393.07" y="751.94"/><use href="#ho" x="384.78" y="756.22"/><use href="#ho" x="376.49" y="760.61"/><use href="#ho" x="368.19" y="765.26"/><use href="#ho" x="359.9" y="769.89"/><use href="#ho" x="351.61" y="774.59"/><use href="#ho" x="343.31" y="779.53"/><use href="#ho" x="335.02" y="784.62"/><use href="#ho" x="326.73" y="789.87"/><use href="#ho" x="318.43" y="795.17"/><use href="#ho" x="310.14" y="800.33"/><use href="#ho" x="301.85" y="805.56"/><use href="#ho" x="293.55" y="811.06"/><use href="#ho" x="285.26" y="816.66"/><use href="#ho" x="276.97" y="822.11"/><use href="#ho" x="268.67" y="827.9"/><use href="#ho" x="260.38" y="834.71"/><use href="#ho" x="252.09" y="842.06"/><use href="#ho" x="243.79" y="849.58"/><use href="#ho" x="235.5" y="857.19"/><use href="#ho" x="227.21" y="864.75"/><use href="#ho" x="218.91" y="872.06"/><use href="#ho" x="210.62" y="878.86"/><use href="#ho" x="202.33" y="885.33"/><use href="#ho" x="194.03" y="891.51"/><use href="#ho" x="185.74" y="897.61"/><use href="#ho" x="177.45" y="903.04"/><use href="#ho" x="169.15" y="907.54"/><use href="#ho" x="160.86" y="911.03"/><use href="#ho" x="152.57" y="913.63"/><use href="#ho" x="147.59" y="914.73"/><use href="#ho" x="146.93" y="914.82"/><use href="#ho" x="146.26" y="914.9"/><use href="#ho" x="145.6" y="914.97"/><use href="#ho" x="144.94" y="915.02"/><use href="#ho" x="144.27" y="915.06"/><use href="#ho" x="143.61" y="915.08"/><use href="#ho" x="142.95" y="915.11"/><use href="#ho" x="142.28" y="915.13"/><use href="#ho" x="141.62" y="915.16"/><use href="#ho" x="140.96" y="915.18"/><use href="#ho" x="140.29" y="915.2"/><use href="#ho" x="139.63" y="915.22"/><use href="#ho" x="138.97" y="915.24"/><use href="#ho" x="138.3" y="915.26"/><use href="#ho" x="137.64" y="915.28"/><use href="#ho" x="136.98" y="915.3"/><use href="#ho" x="136.31" y="915.32"/><use href="#ho" x="135.65" y="915.33"/><use href="#ho" x="134.98" y="915.35"/><use href="#ho" x="134.32" y="915.37"/><use href="#ho" x="133.66" y="915.38"/><use href="#ho" x="132.99" y="915.39"/><use href="#ho" x="132.33" y="915.4"/><use href="#ho" x="131.67" y="915.41"/><use href="#ho" x="131" y="915.42"/><use href="#ho" x="130.34" y="915.43"/><use href="#ho" x="129.68" y="915.44"/><use href="#ho" x="129.01" y="915.45"/><use href="#ho" x="128.35" y="915.45"/><use href="#ho" x="127.69" y="915.46"/><use href="#ho" x="127.02" y="915.46"/><use href="#ho" x="126.36" y="915.46"/><use href="#ho" x="125.7" y="915.47"/><use href="#ho" x="125.03" y="915.47"/><use href="#ho" x="124.37" y="915.47"/><use href="#ho" x="123.71" y="915.47"/><use href="#ho" x="123.04" y="915.48"/><use href="#ho" x="122.38" y="915.48"/><use href="#ho" x="121.72" y="915.48"/><use href="#ho" x="121.05" y="915.48"/><use href="#ho" x="120.39" y="915.48"/><use href="#ho" x="119.73" y="915.48"/><use href="#ho" x="119.06" y="915.48"/><use href="#ho" x="118.4" y="915.56"/><use href="#ho" x="117.73" y="916.14"/><use href="#ho" x="117.07" y="916.89"/><use href="#ho" x="116.41" y="917.75"/><use href="#ho" x="115.74" y="918.69"/><use href="#ho" x="115.08" y="919.7"/><use href="#ho" x="114.42" y="920.78"/>
<polyline points="114.46,929.73 114.58,929.46 114.7,929.19 114.82,928.92 114.94,928.64 115.08,928.37 115.21,928.1 115.35,927.85 115.5,927.61 115.65,927.4 115.8,927.22 115.96,927.09 116.13,927.02 116.3,926.96 116.48,926.9 116.66,926.84 116.85,926.79 117.05,926.74 117.25,926.7 117.46,926.66 117.67,926.62 117.9,926.59 118.13,926.57 118.37,926.56 118.62,926.55 118.87,926.55 119.14,926.55 119.41,926.55 119.7,926.55 119.99,926.55 120.29,926.55 120.61,926.55 120.93,926.55 121.27,926.55 121.61,926.55 121.97,926.55 122.34,926.55 122.73,926.55 123.12,926.55 123.53,926.55 123.96,926.55 124.4,926.55 124.85,926.55 125.32,926.55 125.8,926.55 126.3,926.55 126.82,926.55 127.36,926.55 127.91,926.55 128.49,926.55 129.08,926.55 129.69,926.55 130.33,926.55 130.98,926.54 131.66,926.54 132.36,926.53 133.09,926.53 133.83,926.52 134.61,926.51 135.41,926.5 136.24,926.49 137.1,926.47 137.98,926.46 138.9,926.44 139.85,926.42 140.83,926.4 141.84,926.38 142.89,926.35 143.98,926.32 145.1,926.28 146.26,926.19 147.46,926.06 148.7,925.88 149.98,925.65 151.3,925.37 152.67,925.05 154.09,924.69 155.56,924.28 157.07,923.85 158.64,923.38 160.26,922.88 161.94,922.36 163.67,921.72 165.46,920.98 167.32,920.12 169.24,919.16 171.22,918.1 173.27,916.95 175.39,915.73 177.58,914.44 179.85,913.05 182.19,911.49 184.62,909.78 187.12,907.93 189.72,905.93 192.4,903.8 195.17,901.56 198.03,899.12 201,896.49 204.06,893.67 207.23,890.67 210.51,887.51 213.9,884.23 217.41,880.76 221.03,877.05 224.78,873.15 228.66,869.09 232.67,864.93 236.81,860.72 241.1,856.36 245.53,851.89 250.12,847.45 254.86,843.25 259.76,839.25 264.83,835.22 270.07,831.27 275.49,827.21 281.1,822.85 286.9,819.05 292.89,814.77 299.09,810.51 305.5,805.78 312.13,801.18 318.98,796.9 326.07,792.63 333.4,788.32 340.98,783.93 348.82,779.44 356.93,774.93 365.31,770.41 373.98,766 382.94,761.77 392.21,757.45 401.8,752.97 411.71,748.26 421.96,743.95 432.56,739.21 443.53,733.9 454.86,728.53 466.58,724.05 478.71,718.74 491.24,713.04 504.2,707.11 517.61,701.5 531.47,695.96 545.81,690.68 560.63,686.34 575.96,684.9 591.81,684.56 608.2,685.11" fill="none" stroke="#0000ff" stroke-width="1" stroke-dasharray="1.5,2"/>
<use href="#bl" x="608.2" y="685.11"/><use href="#bl" x="591.81" y="684.56"/><use href="#bl" x="575.96" y="684.9"/><use href="#bl" x="560.63" y="686.34"/><use href="#bl" x="545.81" y="690.68"/><use href="#bl" x="531.47" y="695.96"/><use href="#bl" x="517.61" y="701.5"/><use href="#bl" x="504.2" y="707.11"/><use href="#bl" x="491.24" y="713.04"/><use href="#bl" x="478.71" y="718.74"/><use href="#bl" x="466.58" y="724.05"/><use href="#bl" x="454.86" y="728.53"/><use href="#bl" x="443.53" y="733.9"/><use href="#bl" x="432.56" y="739.21"/><use href="#bl" x="421.96" y="743.95"/><use href="#bl" x="411.71" y="748.26"/><use href="#bl" x="401.8" y="752.97"/><use href="#bl" x="392.21" y="757.45"/><use href="#bl" x="382.94" y="761.77"/><use href="#bl" x="373.98" y="766"/><use href="#bl" x="365.31" y="770.41"/><use href="#bl" x="356.93" y="774.93"/><use href="#bl" x="348.82" y="779.44"/><use href="#bl" x="340.98" y="783.93"/><use href="#bl" x="333.4" y="788.32"/><use href="#bl" x="326.07" y="792.63"/><use href="#bl" x="318.98" y="796.9"/><use href="#bl" x="312.13" y="801.18"/><use href="#bl" x="305.5" y="805.78"/><use href="#bl" x="299.09" y="810.51"/><use href="#bl" x="292.89" y="814.77"/><use href="#bl" x="286.9" y="819.05"/><use href="#bl" x="281.1" y="822.85"/><use href="#bl" x="275.49" y="827.21"/><use href="#bl" x="270.07" y="831.27"/><use href="#bl" x="264.83" y="835.22"/><use href="#bl" x="259.76" y="839.25"/><use href="#bl" x="254.86" y="843.25"/><use href="#bl" x="250.12" y="847.45"/><use href="#bl" x="245.53" y="851.89"/><use href="#bl" x="241.1" y="856.36"/><use href="#bl" x="236.81" y="860.72"/><use href="#bl" x="232.67" y="864.93"/><use href="#bl" x="228.66" y="869.09"/><use href="#bl" x="224.78" y="873.15"/><use href="#bl" x="221.03" y="877.05"/><use href="#bl" x="217.41" y="880.76"/><use href="#bl" x="213.9" y="884.23"/><use href="#bl" x="210.51" y="887.51"/><use href="#bl" x="207.23" y="890.67"/><use href="#bl" x="204.06" y="893.67"/><use href="#bl" x="201" y="896.49"/><use href="#bl" x="198.03" y="899.12"/><use href="#bl" x="195.17" y="901.56"/><use href="#bl" x="192.4" y="903.8"/><use href="#bl" x="189.72" y="905.93"/><use href="#bl" x="187.12" y="907.93"/><use href="#bl" x="184.62" y="909.78"/><use href="#bl" x="182.19" y="911.49"/><use href="#bl" x="179.85" y="913.05"/><use href="#bl" x="177.58" y="914.44"/><use href="#bl" x="175.39" y="915.73"/><use href="#bl" x="173.27" y="916.95"/><use href="#bl" x="171.22" y="918.1"/><use href="#bl" x="169.24" y="919.16"/><use href="#bl" x="167.32" y="920.12"/><use href="#bl" x="165.46" y="920.98"/><use href="#bl" x="163.67" y="921.72"/><use href="#bl" x="161.94" y="922.36"/><use href="#bl" x="160.26" y="922.88"/><use href="#bl" x="158.64" y="923.38"/><use href="#bl" x="157.07" y="923.85"/><use href="#bl" x="155.56" y="924.28"/><use href="#bl" x="154.09" y="924.69"/><use href="#bl" x="152.67" y="925.05"/><use href="#bl" x="151.3" y="925.37"/><use href="#bl" x="149.98" y="925.65"/><use href="#bl" x="148.7" y="925.88"/><use href="#bl" x="147.46" y="926.06"/><use href="#bl" x="146.26" y="926.19"/><use href="#bl" x="145.1" y="926.28"/><use href="#bl" x="143.98" y="926.32"/><use href="#bl" x="142.89" y="926.35"/><use href="#bl" x="141.84" y="926.38"/><use href="#bl" x="140.83" y="926.4"/><use href="#bl" x="139.85" y="926.42"/><use href="#bl" x="138.9" y="926.44"/><use href="#bl" x="137.98" y="926.46"/><use href="#bl" x="137.1" y="926.47"/><use href="#bl" x="136.24" y="926.49"/><use href="#bl" x="135.41" y="926.5"/><use href="#bl" x="134.61" y="926.51"/><use href="#bl" x="133.83" y="926.52"/><use href="#bl" x="133.09" y="926.53"/><use href="#bl" x="132.36" y="926.53"/><use href="#bl" x="131.66" y="926.54"/><use href="#bl" x="130.98" y="926.54"/><use href="#bl" x="130.33" y="926.55"/><use href="#bl" x="129.69" y="926.55"/><use href="#bl" x="129.08" y="926.55"/><use href="#bl" x="128.49" y="926.55"/><use href="#bl" x="127.91" y="926.55"/><use href="#bl" x="127.36" y="926.55"/><use href="#bl" x="126.82" y="926.55"/><use href="#bl" x="126.3" y="926.55"/><use href="#bl" x="125.8" y="926.55"/><use href="#bl" x="125.32" y="926.55"/><use href="#bl" x="124.85" y="926.55"/><use href="#bl" x="124.4" y="926.55"/><use href="#bl" x="123.96" y="926.55"/><use href="#bl" x="123.53" y="926.55"/><use href="#bl" x="123.12" y="926.55"/><use href="#bl" x="122.73" y="926.55"/><use href="#bl" x="122.34" y="926.55"/><use href="#bl" x="121.97" y="926.55"/><use href="#bl" x="121.61" y="926.55"/><use href="#bl" x="121.27" y="926.55"/><use href="#bl" x="120.93" y="926.55"/><use href="#bl" x="120.61" y="926.55"/><use href="#bl" x="120.29" y="926.55"/><use href="#bl" x="119.99" y="926.55"/><use href="#bl" x="119.7" y="926.55"/><use href="#bl" x="119.41" y="926.55"/><use href="#bl" x="119.14" y="926.55"/><use href="#bl" x="118.87" y="926.55"/><use href="#bl" x="118.62" y="926.55"/><use href="#bl" x="118.37" y="926.56"/><use href="#bl" x="118.13" y="926.57"/><use href="#bl" x="117.9" y="926.59"/><use href="#bl" x="117.67" y="926.62"/><use href="#bl" x="117.46" y="926.66"/><use href="#bl" x="117.25" y="926.7"/><use href="#bl" x="117.05" y="926.74"/><use href="#bl" x="116.85" y="926.79"/><use href="#bl" x="116.66" y="926.84"/><use href="#bl" x="116.48" y="926.9"/><use href="#bl" x="116.3" y="926.96"/><use href="#bl" x="116.13" y="927.02"/><use href="#bl" x="115.96" y="927.09"/><use href="#bl" x="115.8" y="927.22"/><use href="#bl" x="115.65" y="927.4"/><use href="#bl" x="115.5" y="927.61"/><use href="#bl" x="115.35" y="927.85"/><use href="#bl" x="115.21" y="928.1"/><use href="#bl" x="115.08" y="928.37"/><use href="#bl" x="114.94" y="928.64"/><use href="#bl" x="114.82" y="928.92"/><use href="#bl" x="114.7" y="929.19"/><use href="#bl" x="114.58" y="929.46"/><use href="#bl" x="114.46" y="929.73"/>
</g>
<path d="M152.57,299.3v5.6M152.57,973.25v-5.6M194.03,299.3v11M194.03,973.25v-11M235.5,299.3v5.6M235.5,973.25v-5.6M276.97,299.3v11M276.97,973.25v-11M318.43,299.3v5.6M318.43,973.25v-5.6M359.9,299.3v11M359.9,973.25v-11M401.37,299.3v5.6M401.37,973.25v-5.6M442.83,299.3v11M442.83,973.25v-11M484.3,299.3v5.6M484.3,973.25v-5.6M525.77,299.3v11M525.77,973.25v-11M567.23,299.3v5.6M567.23,973.25v-5.6M111.1,925.11h11M608.7,925.11h-11M111.1,876.97h5.6M608.7,876.97h-5.6M111.1,828.83h11M608.7,828.83h-11M111.1,780.69h5.6M608.7,780.69h-5.6M111.1,732.55h11M608.7,732.55h-11M111.1,684.41h5.6M608.7,684.41h-5.6M111.1,636.27h11M608.7,636.27h-11M111.1,588.14h5.6M608.7,588.14h-5.6M111.1,540h11M608.7,540h-11M111.1,491.86h5.6M608.7,491.86h-5.6M111.1,443.72h11M608.7,443.72h-11M111.1,395.58h5.6M608.7,395.58h-5.6M111.1,347.44h11M608.7,347.44h-11" stroke="#000" stroke-width="2" fill="none"/>
<rect x="111.1" y="299.3" width="497.6" height="673.95" fill="none" stroke="#000" stroke-width="2"/>
<g font-family="Liberation Sans, sans-serif" style="font-kerning:none">
<g transform="translate(98.8,935.51)" font-size="36" fill="#000"><text x="-40.04" y="0" xml:space="preserve">40</text></g>
<g transform="translate(98.8,839.23)" font-size="36" fill="#000"><text x="-40.04" y="0" xml:space="preserve">60</text></g>
<g transform="translate(98.8,742.95)" font-size="36" fill="#000"><text x="-40.04" y="0" xml:space="preserve">80</text></g>
<g transform="translate(98.8,646.67)" font-size="36" fill="#000"><path transform="translate(-60.06,0) scale(0.01758,-0.01758)" d="M763 0H583V1147Q518 1085 412.5 1023T223 930V1104Q374 1175 487 1276T647 1472H763Z"/><text x="-40.04" y="0" xml:space="preserve">00</text></g>
<g transform="translate(98.8,550.4)" font-size="36" fill="#000"><path transform="translate(-60.06,0) scale(0.01758,-0.01758)" d="M763 0H583V1147Q518 1085 412.5 1023T223 930V1104Q374 1175 487 1276T647 1472H763Z"/><text x="-40.04" y="0" xml:space="preserve">20</text></g>
<g transform="translate(98.8,454.12)" font-size="36" fill="#000"><path transform="translate(-60.06,0) scale(0.01758,-0.01758)" d="M763 0H583V1147Q518 1085 412.5 1023T223 930V1104Q374 1175 487 1276T647 1472H763Z"/><text x="-40.04" y="0" xml:space="preserve">40</text></g>
<g transform="translate(98.8,357.84)" font-size="36" fill="#000"><path transform="translate(-60.06,0) scale(0.01758,-0.01758)" d="M763 0H583V1147Q518 1085 412.5 1023T223 930V1104Q374 1175 487 1276T647 1472H763Z"/><text x="-40.04" y="0" xml:space="preserve">60</text></g>
<g transform="translate(111.1,1014.3)" font-size="36" fill="#000"><text x="-10.01" y="0" xml:space="preserve">0</text></g>
<g transform="translate(194.03,1014.3)" font-size="36" fill="#000"><text x="-20.02" y="0" xml:space="preserve">50</text></g>
<g transform="translate(276.97,1014.3)" font-size="36" fill="#000"><path transform="translate(-30.03,0) scale(0.01758,-0.01758)" d="M763 0H583V1147Q518 1085 412.5 1023T223 930V1104Q374 1175 487 1276T647 1472H763Z"/><text x="-10.01" y="0" xml:space="preserve">00</text></g>
<g transform="translate(359.9,1014.3)" font-size="36" fill="#000"><path transform="translate(-30.03,0) scale(0.01758,-0.01758)" d="M763 0H583V1147Q518 1085 412.5 1023T223 930V1104Q374 1175 487 1276T647 1472H763Z"/><text x="-10.01" y="0" xml:space="preserve">50</text></g>
<g transform="translate(442.83,1014.3)" font-size="36" fill="#000"><text x="-30.03" y="0" xml:space="preserve">200</text></g>
<g transform="translate(525.77,1014.3)" font-size="36" fill="#000"><text x="-30.03" y="0" xml:space="preserve">250</text></g>
<g transform="translate(608.7,1014.3)" font-size="36" fill="#000"><text x="-30.03" y="0" xml:space="preserve">300</text></g>
<g transform="translate(31.4,627) rotate(-90) scale(1.030,1.000)" font-size="40" fill="#000"><text x="-90.05" y="0" xml:space="preserve">ρ (μΩ-cm)</text></g>
<g transform="translate(355.2,1060.6)" font-size="40" fill="#000"><text x="-44.43" y="0" font-style="italic" xml:space="preserve">T</text><text x="-20" y="0" xml:space="preserve"> (K)</text></g>
<g transform="translate(131.5,336.1)" font-size="31" fill="#000"><text x="0" y="0" xml:space="preserve">(a)</text></g>
<g transform="translate(249.3,347.2) scale(1.000,1.020)" font-size="30" fill="#000"><text x="0" y="0" xml:space="preserve">CeAlGe</text></g>
<g transform="translate(430.9,378.1) rotate(-20.5)" font-size="22" fill="#008000"><text x="0" y="0" xml:space="preserve">In-flux, #2</text></g>
<g transform="translate(474.4,428.1) rotate(-20.7)" font-size="22" fill="#008000"><text x="0" y="0" xml:space="preserve">In-flux, #</text><path transform="translate(84.37,0) scale(0.01074,-0.01074)" d="M763 0H583V1147Q518 1085 412.5 1023T223 930V1104Q374 1175 487 1276T647 1472H763Z"/></g>
<g transform="translate(412.8,540.3) rotate(-29)" font-size="21.8" fill="#000"><text x="0" y="0" xml:space="preserve">four-probe, I||c</text></g>
<path d="M377.4,826.6H393M406.2,826.6H421" stroke="#000" stroke-width="1"/>
<use href="#sql" x="399.6" y="826.6"/>
<g transform="translate(425.4,832.5)" font-size="18.85" fill="#000"><text x="0" y="0" xml:space="preserve">four-probe, I||b</text></g>
<path d="M377.4,850.3H392.3M406.9,850.3H421" stroke="#ff0000" stroke-width="1"/>
<use href="#cf" x="399.6" y="850.3"/>
<g transform="translate(425.4,856.2)" font-size="18.85" fill="#000"><text x="0" y="0" xml:space="preserve">van der Pauw, #</text><path transform="translate(136.22,0) scale(0.00920,-0.00920)" d="M763 0H583V1147Q518 1085 412.5 1023T223 930V1104Q374 1175 487 1276T647 1472H763Z"/></g>
<path d="M377.4,874H393.1M406.1,874H421" stroke="#ff0000" stroke-width="1"/>
<use href="#co" x="399.6" y="874"/>
<g transform="translate(425.4,879.9)" font-size="18.85" fill="#000"><text x="0" y="0" xml:space="preserve">van der Pauw, #2</text></g>
<path d="M377.4,897.7H392.3M406.9,897.7H421" stroke="#0000ff" stroke-width="1"/>
<use href="#bl" x="399.6" y="897.7"/>
<g transform="translate(425.4,903.6)" font-size="18.85" fill="#000"><text x="0" y="0" xml:space="preserve">four-terminal Corbino</text></g>
<path d="M377.4,921.4H393.1M406.1,921.4H421" stroke="#ff00ff" stroke-width="1"/>
<use href="#hfl" x="399.6" y="921.4"/>
<g transform="translate(425.4,927.3)" font-size="18.85" fill="#000"><text x="0" y="0" xml:space="preserve">Ames Lab Ce, #</text><path transform="translate(135.16,0) scale(0.00920,-0.00920)" d="M763 0H583V1147Q518 1085 412.5 1023T223 930V1104Q374 1175 487 1276T647 1472H763Z"/></g>
<path d="M377.4,945.1H393.1M406.1,945.1H421" stroke="#ff00ff" stroke-width="1"/>
<use href="#ho" x="399.6" y="945.1"/>
<g transform="translate(425.4,951)" font-size="18.85" fill="#000"><text x="0" y="0" xml:space="preserve">Ames Lab Ce, #2</text></g>
</g>
<g clip-path="url(#cb)">
<use href="#shs" x="833.86" y="383.11"/><use href="#shs" x="831.2" y="384.5"/><use href="#shs" x="828.55" y="385.89"/><use href="#shs" x="825.89" y="387.28"/><use href="#shs" x="823.24" y="388.67"/><use href="#shs" x="820.58" y="390.07"/><use href="#shs" x="817.92" y="391.46"/><use href="#shs" x="815.27" y="392.85"/><use href="#shs" x="812.61" y="394.24"/><use href="#shs" x="809.96" y="395.63"/><use href="#shs" x="807.3" y="397.03"/>
<use href="#sfs" x="834.98" y="504.35"/><use href="#sfs" x="833.66" y="502.35"/><use href="#sfs" x="832.33" y="505.56"/><use href="#sfs" x="831" y="503.56"/><use href="#sfs" x="829.67" y="506.77"/><use href="#sfs" x="828.35" y="504.77"/><use href="#sfs" x="827.02" y="507.97"/><use href="#sfs" x="825.69" y="505.98"/><use href="#sfs" x="824.36" y="509.18"/><use href="#sfs" x="823.03" y="507.19"/><use href="#sfs" x="821.71" y="510.39"/><use href="#sfs" x="820.38" y="508.4"/><use href="#sfs" x="819.05" y="511.6"/><use href="#sfs" x="817.72" y="509.6"/><use href="#sfs" x="816.4" y="512.81"/><use href="#sfs" x="815.07" y="510.81"/><use href="#sfs" x="813.74" y="514.02"/><use href="#sfs" x="812.41" y="512.02"/><use href="#sfs" x="811.09" y="515.23"/><use href="#sfs" x="809.76" y="513.23"/><use href="#sfs" x="808.43" y="516.43"/><use href="#sfs" x="807.1" y="514.44"/><use href="#sfs" x="805.78" y="517.64"/><use href="#sfs" x="804.45" y="515.65"/>
<g font-family="Liberation Sans, sans-serif" style="font-kerning:none"><g transform="translate(808,364.6) rotate(-25)" font-size="22" fill="#008000"><text x="0" y="0" xml:space="preserve">In-flux, #2</text></g><g transform="translate(817.6,480.4) rotate(-25)" font-size="22" fill="#008000"><text x="0" y="0" xml:space="preserve">In-flux, #</text><path transform="translate(84.37,0) scale(0.01074,-0.01074)" d="M763 0H583V1147Q518 1085 412.5 1023T223 930V1104Q374 1175 487 1276T647 1472H763Z"/></g></g>
</g>
<g clip-path="url(#cc)">
<use href="#dis" x="833" y="631"/><use href="#dis" x="831.5" y="625"/><use href="#dis" x="828.8" y="640.3"/><use href="#dis" x="826.7" y="635.8"/><use href="#dis" x="824.1" y="650.5"/><use href="#dis" x="821.2" y="643.3"/><use href="#dis" x="819" y="660.1"/><use href="#dis" x="815.9" y="652.9"/><use href="#dis" x="814" y="665.8"/><use href="#dis" x="811.4" y="670.9"/><use href="#dis" x="805.7" y="667.9"/><use href="#dis" x="808.3" y="676.7"/>
</g>
<g clip-path="url(#cd)">
<use href="#sqs" x="837.26" y="936.86"/><use href="#sqs" x="832.75" y="939.13"/><use href="#sqs" x="828.25" y="941.4"/><use href="#sqs" x="823.74" y="943.68"/><use href="#sqs" x="819.23" y="945.95"/><use href="#sqs" x="814.72" y="948.22"/><use href="#sqs" x="810.21" y="950.49"/><use href="#sqs" x="805.7" y="952.76"/>
<use href="#cfs" x="835.76" y="808.21"/><use href="#cfs" x="830.75" y="808.21"/><use href="#cfs" x="825.74" y="802.87"/><use href="#cfs" x="820.73" y="806.09"/><use href="#cfs" x="815.72" y="809.31"/><use href="#cfs" x="810.71" y="812.52"/><use href="#cfs" x="805.7" y="815.74"/>
<use href="#cos" x="835.76" y="847.18"/><use href="#cos" x="830.75" y="849.95"/><use href="#cos" x="825.74" y="852.71"/><use href="#cos" x="820.73" y="855.48"/><use href="#cos" x="815.72" y="858.25"/><use href="#cos" x="810.71" y="861.02"/><use href="#cos" x="805.7" y="863.79"/>
<use href="#hfs" x="837.01" y="909.4"/><use href="#hfs" x="835.76" y="910.01"/><use href="#hfs" x="834.51" y="910.62"/><use href="#hfs" x="833.25" y="911.23"/><use href="#hfs" x="832" y="911.84"/><use href="#hfs" x="830.75" y="912.45"/><use href="#hfs" x="829.5" y="913.06"/><use href="#hfs" x="828.24" y="913.67"/><use href="#hfs" x="826.99" y="914.28"/><use href="#hfs" x="825.74" y="914.89"/><use href="#hfs" x="824.49" y="915.51"/><use href="#hfs" x="823.23" y="916.12"/><use href="#hfs" x="821.98" y="916.73"/><use href="#hfs" x="820.73" y="917.34"/><use href="#hfs" x="819.48" y="917.95"/><use href="#hfs" x="818.23" y="918.56"/><use href="#hfs" x="816.97" y="919.17"/><use href="#hfs" x="815.72" y="919.78"/><use href="#hfs" x="814.47" y="920.39"/><use href="#hfs" x="813.22" y="921"/><use href="#hfs" x="811.96" y="921.61"/><use href="#hfs" x="810.71" y="922.22"/><use href="#hfs" x="809.46" y="922.83"/><use href="#hfs" x="808.21" y="923.45"/><use href="#hfs" x="806.95" y="924.06"/><use href="#hfs" x="805.7" y="924.67"/>
<use href="#hos" x="835.76" y="820.26"/><use href="#hos" x="833.26" y="821.46"/><use href="#hos" x="830.75" y="822.66"/><use href="#hos" x="828.25" y="823.86"/><use href="#hos" x="825.74" y="825.07"/><use href="#hos" x="823.24" y="826.27"/><use href="#hos" x="820.73" y="827.47"/><use href="#hos" x="818.23" y="828.67"/><use href="#hos" x="815.72" y="829.87"/><use href="#hos" x="813.22" y="831.07"/><use href="#hos" x="810.71" y="832.27"/><use href="#hos" x="808.21" y="833.47"/><use href="#hos" x="805.7" y="834.68"/>
<use href="#bls" x="837.26" y="857.56"/><use href="#bls" x="835.76" y="858.29"/><use href="#bls" x="834.26" y="859.03"/><use href="#bls" x="832.75" y="859.76"/><use href="#bls" x="831.25" y="860.49"/><use href="#bls" x="829.75" y="861.23"/><use href="#bls" x="828.25" y="861.96"/><use href="#bls" x="826.74" y="862.69"/><use href="#bls" x="825.24" y="863.42"/><use href="#bls" x="823.74" y="864.16"/><use href="#bls" x="822.23" y="864.89"/><use href="#bls" x="820.73" y="865.62"/><use href="#bls" x="819.23" y="866.36"/><use href="#bls" x="817.72" y="867.09"/><use href="#bls" x="816.22" y="867.82"/><use href="#bls" x="814.72" y="868.56"/><use href="#bls" x="813.22" y="869.29"/><use href="#bls" x="811.71" y="870.02"/><use href="#bls" x="810.21" y="870.75"/><use href="#bls" x="808.71" y="871.49"/><use href="#bls" x="807.2" y="872.22"/><use href="#bls" x="805.7" y="872.95"/>
</g>
<path d="M755.6,300.8H840M755.6,525.9H840M755.6,750.45H840M755.6,974.7H840M755.6,299.8V975.7M780.65,300.8v5.7M780.65,520.2V531.6M780.65,744.75V756.15M780.65,974.7v-5.7M805.7,300.8v10.8M805.7,515.1V536.7M805.7,739.65V761.25M805.7,974.7v-10.8M755.6,322h5.7M755.6,372.9h10.8M755.6,423.8h5.7M755.6,474.7h10.8M755.6,581.7h10.8M755.6,638.15h5.7M755.6,694.6h10.8M755.6,802.1h5.7M755.6,853h10.8M755.6,903.9h5.7M755.6,954.8h10.8" stroke="#000" stroke-width="2" fill="none"/>
<g font-family="Liberation Sans, sans-serif" style="font-kerning:none">
<g transform="translate(743.7,383.8)" font-size="36" fill="#000"><path transform="translate(-60.06,0) scale(0.01758,-0.01758)" d="M763 0H583V1147Q518 1085 412.5 1023T223 930V1104Q374 1175 487 1276T647 1472H763Z"/><text x="-40.04" y="0" xml:space="preserve">00</text></g>
<g transform="translate(743.7,485.6)" font-size="36" fill="#000"><text x="-40.04" y="0" xml:space="preserve">90</text></g>
<g transform="translate(743.7,592.6)" font-size="36" fill="#000"><text x="-40.04" y="0" xml:space="preserve">64</text></g>
<g transform="translate(743.7,705.5)" font-size="36" fill="#000"><text x="-40.04" y="0" xml:space="preserve">62</text></g>
<g transform="translate(743.7,761.35)" font-size="36" fill="#000"><text x="-40.04" y="0" xml:space="preserve">45</text></g>
<g transform="translate(743.7,863.9)" font-size="36" fill="#000"><text x="-40.04" y="0" xml:space="preserve">40</text></g>
<g transform="translate(743.7,965.7)" font-size="36" fill="#000"><text x="-40.04" y="0" xml:space="preserve">35</text></g>
<g transform="translate(756.2,1014.6)" font-size="36" fill="#000"><text x="-10.01" y="0" xml:space="preserve">0</text></g>
<g transform="translate(805.7,1014.6)" font-size="36" fill="#000"><text x="-10.01" y="0" xml:space="preserve">2</text></g>
<g transform="translate(765.4,338.5)" font-size="31" fill="#000"><text x="0" y="0" xml:space="preserve">(b)</text></g>
<g transform="translate(764.5,559.6)" font-size="31" fill="#000"><text x="0" y="0" xml:space="preserve">(c)</text></g>
<g transform="translate(762.6,785.5)" font-size="31" fill="#000"><text x="0" y="0" xml:space="preserve">(d)</text></g>
<g transform="translate(692,626.6) rotate(-90) scale(1.030,1.000)" font-size="40" fill="#000"><text x="-90.05" y="0" xml:space="preserve">ρ (μΩ-cm)</text></g>
</g>
</svg>
</body></html>
